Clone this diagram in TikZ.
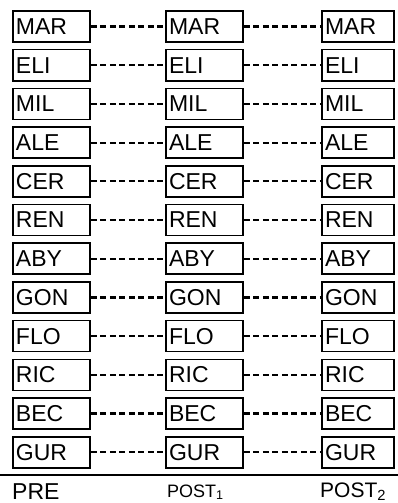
\documentclass[tikz,border=0pt]{standalone}
\usepackage{fontspec}
\setmainfont{Liberation Sans}
\begin{document}
\begin{tikzpicture}[x=1pt,y=-1pt,
  box/.style={draw, line width=1.6pt, minimum height=31pt, inner sep=3pt, align=left,
    font=\fontsize{23}{23}\selectfont, anchor=center},
  wbox/.style={box, text width=71pt},
  nbox/.style={box, text width=66pt},
  conn/.style={line width=2.2pt, dash pattern=on 6pt off 3.5pt},
  lab/.style={anchor=base west, inner sep=0pt}]
\useasboundingbox (0,0) rectangle (398,503);
\foreach \t [count=\i from 0] in {MAR,ELI,MIL,ALE,CER,REN,ABY,GON,FLO,RIC,BEC,GUR} {
  \pgfmathsetmacro{\yy}{26.5+38.7*\i}
  \node[wbox] (a\i) at (51.5,\yy) {\t};
  \node[wbox] (b\i) at (204.5,\yy) {\t};
  \node[nbox] (c\i) at (358,\yy) {\t};
  \draw[conn] (a\i.east) -- (b\i.west);
  \draw[conn] (b\i.east) -- (c\i.west);
}
\coordinate (l0) at (0,475);
\coordinate (l1) at (398,475);
\draw[line width=2pt] (l0) -- (l1);
\node[lab, font=\fontsize{23}{23}\selectfont] (pre) at (12,499) {PRE};
\node[lab, font=\fontsize{18}{18}\selectfont] (post1) at (167,497) {POST\textsubscript{1}};
\node[lab, font=\fontsize{21}{21}\selectfont] (post2) at (320,497) {POST\textsubscript{2}};
\end{tikzpicture}
\end{document}
